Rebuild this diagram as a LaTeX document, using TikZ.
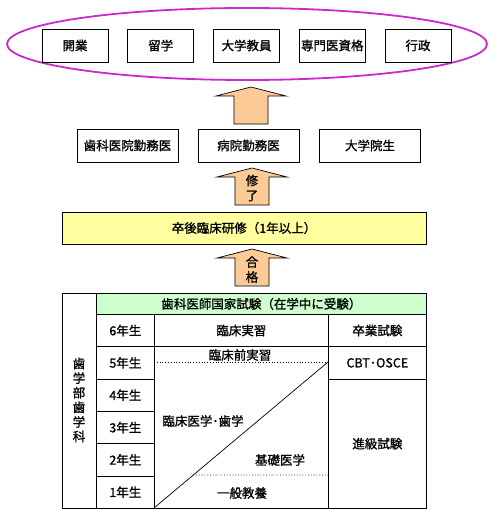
\documentclass[tikz,border=0pt]{standalone}
\usepackage{fontspec}
\setmainfont{Noto Sans CJK JP}[FakeBold=1.2]
\usepackage{tikz}
\usetikzlibrary{positioning, shapes.geometric, calc}
\definecolor{ovalpink}{RGB}{205,40,205}
\definecolor{arrowpeach}{RGB}{252,202,150}
\definecolor{trainyellow}{RGB}{255,255,160}
\definecolor{examgreen}{RGB}{204,255,204}

% block arrow pointing up, from bottom point #1 to tip #2
\newcommand{\blockup}[2]{%
  \draw[uparrow] ($(#1)+(-17,0)$) -- ($(#2)+(-17,9)$) -- ($(#2)+(-35,9)$)
    -- (#2) -- ($(#2)+(35,9)$) -- ($(#2)+(17,9)$) -- ($(#1)+(17,0)$) -- cycle;}

\begin{document}
\begin{tikzpicture}[
    x = 1pt, y = -1pt,
    every node/.style = {font=\fontsize{12.5}{14.6}\selectfont, inner sep=0pt},
    goalbox/.style = {draw, line width=0.8pt, minimum width=66pt, minimum height=33pt},
    workbox/.style = {draw, line width=0.8pt, minimum width=101pt, minimum height=33pt},
    cell/.style = {draw, line width=0.7pt, anchor=north west, minimum height=32.33pt},
    uparrow/.style = {draw, fill=arrowpeach, line width=0.7pt},
    dotline/.style = {dotted, line width=0.8pt}
]
\useasboundingbox (0,0) rectangle (500,516);

% Career goals
\node[draw=ovalpink, line width=1.8pt, ellipse, minimum width=480pt, minimum height=72pt] (career) at (247,44) {};
\foreach \goal [count=\i from 0] in {開業, 留学, 大学教員, 専門医資格, 行政}
  \node[goalbox] (goal\i) at ({75+85.75*\i}, 45.5) {\goal};

\coordinate (up1s) at (251,124);
\coordinate (up1t) at (251,87);
\blockup{up1s}{up1t}

% After training
\node[workbox] (clinicdoc) at (127.5,145.5) {歯科医院勤務医};
\node[workbox] (hospdoc) at (248.5,145.5) {病院勤務医};
\node[workbox] (gradstudent) at (370,145.5) {大学院生};

\coordinate (up2s) at (252,205);
\coordinate (up2t) at (252,168);
\blockup{up2s}{up2t}
\node[align=center, font=\fontsize{12.5}{15}\selectfont] (doneLabel) at (252,188) {修\\了};

% Postgraduate training
\node[draw, line width=0.8pt, fill=trainyellow, minimum width=364pt, minimum height=32pt] (training) at (244,228) {卒後臨床研修（1年以上）};

\coordinate (up3s) at (252,286);
\coordinate (up3t) at (252,249);
\blockup{up3s}{up3t}
\node[align=center, font=\fontsize{12.5}{15}\selectfont] (passLabel) at (252,269.5) {合\\格};

% School of dentistry
\draw[line width=0.8pt] (62,293) rectangle (426,508);
\node[cell, fill=examgreen, minimum width=330pt, minimum height=21pt] (exam) at (96,293) {歯科医師国家試験（在学中に受験）};
\draw[line width=0.7pt] (96,293) -- (96,508);
\node[align=center] (dept) at (79,400) {歯\\学\\部\\歯\\学\\科};

\foreach \yr [count=\i from 0] in {6,5,4,3,2,1}
  \node[cell, minimum width=58pt] (year\yr) at (96, {314+32.33*\i}) {\yr 年生};

\node[cell, minimum width=174pt] (practice) at (154,314) {臨床実習};
\node[cell, minimum width=98pt] (gradexam) at (328,314) {卒業試験};
\node[cell, minimum width=98pt] (cbt) at (328,346.33) {CBT･OSCE};
\node[cell, minimum width=98pt, minimum height=129.33pt] (promo) at (328,378.67) {進級試験};
\draw[line width=0.7pt] (practice.south west) -- (154,508);

% Curriculum split
\coordinate (diagLow) at (154,508);
\coordinate (diagHigh) at (328,362);
\coordinate (preLeft) at (154,362);
\coordinate (basicRight) at (328,475);
\coordinate (basicLeft) at (intersection of diagLow--diagHigh and basicRight--preLeft|-basicRight);
\draw[line width=0.7pt] (diagLow) -- (diagHigh);
\draw[dotline] (preLeft) -- (diagHigh);
\draw[dotline] (basicLeft) -- (basicRight);

\node (preclinic) at (240,355) {臨床前実習};
\node (clinmed) at (203,421) {臨床医学･歯学};
\node (basicmed) at (280,460) {基礎医学};
\node (liberal) at (242,493) {一般教養};

\end{tikzpicture}
\end{document}
